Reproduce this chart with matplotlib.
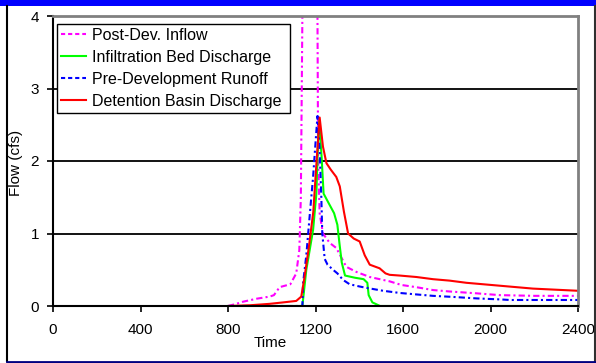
import matplotlib
matplotlib.use("Agg")
import matplotlib.pyplot as plt
from matplotlib.lines import Line2D
from matplotlib.patches import Rectangle

plt.rcParams['font.family'] = ['Liberation Sans', 'DejaVu Sans']

# Hydrograph series (time, flow in cfs)
inflow_t = [800, 838, 870, 930, 991, 1010, 1036, 1085, 1112, 1126, 1133, 1140, 1160, 1185,
            1209, 1212, 1219, 1234, 1265, 1295, 1341, 1387, 1448, 1539, 1593, 1660, 1737,
            1814, 1935, 2042, 2200, 2400]
inflow_q = [0, 0.03, 0.06, 0.10, 0.13, 0.15, 0.26, 0.30, 0.45, 0.77, 1.5, 4.0, 9.0, 9.0,
            4.0, 2.0, 1.28, 1.0, 0.87, 0.80, 0.54, 0.47, 0.40, 0.34, 0.29, 0.26, 0.22,
            0.20, 0.175, 0.15, 0.14, 0.14]

infil_t = [800, 1140, 1158, 1175, 1189, 1204, 1212, 1217, 1228, 1237, 1260, 1285, 1300,
           1310, 1320, 1335, 1380, 1420, 1437, 1443, 1460, 1495, 2400]
infil_q = [0, 0, 0.5, 0.8, 1.05, 1.55, 2.3, 2.55, 2.05, 1.55, 1.42, 1.28, 1.12,
           0.85, 0.6, 0.42, 0.39, 0.37, 0.32, 0.15, 0.05, 0, 0]

predev_t = [800, 1140, 1143, 1158, 1173, 1189, 1201, 1209, 1219, 1227, 1231, 1242, 1255,
            1280, 1300, 1326, 1356, 1400, 1433, 1509, 1585, 1660, 1737, 1830, 1935, 2050,
            2088, 2400]
predev_q = [0, 0, 0.31, 0.7, 1.23, 1.78, 2.29, 2.62, 2.15, 1.46, 1.0, 0.65, 0.57,
            0.50, 0.45, 0.36, 0.30, 0.27, 0.25, 0.21, 0.18, 0.16, 0.14, 0.125, 0.105, 0.09,
            0.083, 0.083]

basin_t = [800, 900, 991, 1053, 1112, 1135, 1150, 1170, 1190, 1205, 1219, 1234, 1250,
           1270, 1295, 1311, 1330, 1349, 1375, 1402, 1425, 1448, 1493, 1520, 1539, 1585,
           1661, 1737, 1813, 1890, 2042, 2194, 2400]
basin_q = [0, 0.01, 0.03, 0.05, 0.07, 0.13, 0.4, 0.82, 1.3, 2.0, 2.6, 2.2, 1.97,
           1.88, 1.78, 1.65, 1.3, 1.0, 0.93, 0.89, 0.7, 0.57, 0.52, 0.45, 0.43, 0.42,
           0.40, 0.37, 0.35, 0.32, 0.28, 0.24, 0.21]

labels = ["Post-Dev. Inflow", "Infiltration Bed Discharge",
          "Pre-Development Runoff", "Detention Basin Discharge"]
x_ticks = [0, 400, 800, 1200, 1600, 2000, 2400]
y_ticks = [0, 1, 2, 3, 4]

MAGENTA = "#FF00FF"
GREEN = "#00FF00"
BLUE = "#0000FF"
RED = "#FF0000"
FS = 11

W, H = 596, 363
fig = plt.figure(figsize=(W / 100, H / 100), dpi=100)
ax = fig.add_axes([53 / W, 1 - 306 / H, (578 - 53) / W, (306 - 16) / H])

lw = 1.5
dashdot = (3, 1.5, 1, 1.5)
ax.plot(inflow_t, inflow_q, color=MAGENTA, lw=lw, dashes=dashdot, zorder=3)
ax.plot(infil_t, infil_q, color=GREEN, lw=lw, zorder=4)
ax.plot(predev_t, predev_q, color=BLUE, lw=lw, dashes=dashdot, zorder=5)
ax.plot(basin_t, basin_q, color=RED, lw=lw, zorder=6)

ax.set_xlim(0, 2400)
ax.set_ylim(0, 4)
ax.set_xticks(x_ticks)
ax.set_yticks(y_ticks)
ax.set_xticklabels([str(v) for v in x_ticks])
ax.set_yticklabels([str(v) for v in y_ticks])

for y in y_ticks[1:-1]:
    ax.axhline(y, color="black", lw=1.3, zorder=1)

ax.spines['left'].set_color("black")
ax.spines['left'].set_linewidth(1.5)
ax.spines['bottom'].set_color("black")
ax.spines['bottom'].set_linewidth(1.5)
ax.spines['top'].set_color("#808080")
ax.spines['top'].set_linewidth(2)
ax.spines['right'].set_color("#808080")
ax.spines['right'].set_linewidth(2)
for s in ax.spines.values():
    s.set_zorder(7)

ax.tick_params(axis='both', direction='out', length=4, width=1.2, color="black",
               labelsize=FS, labelcolor="black")
ax.tick_params(axis='x', pad=8)
ax.tick_params(axis='y', pad=6)

handles = [
    Line2D([], [], color=MAGENTA, lw=lw, dashes=(2, 1.4)),
    Line2D([], [], color=GREEN, lw=lw),
    Line2D([], [], color=BLUE, lw=lw, dashes=(2, 1.4)),
    Line2D([], [], color=RED, lw=lw),
]
leg = ax.legend(handles, labels, loc='upper left', mode='expand',
                bbox_to_anchor=(57 / W, 1 - 113 / H, 233 / W, 89 / H),
                bbox_transform=fig.transFigure,
                borderaxespad=0, fancybox=False, shadow=False, framealpha=1,
                edgecolor="black", fontsize=11.5, handlelength=1.6,
                handletextpad=0.35, labelspacing=0.45, borderpad=0.22)
leg.get_frame().set_linewidth(1.0)
leg.set_zorder(10)

fig.text(270 / W, 1 - 343 / H, "Time", ha='center', va='center', fontsize=FS)
fig.text(16 / W, 1 - 163 / H, "Flow (cfs)", ha='center', va='center',
         rotation=90, fontsize=FS)

# Chart-area frame
fig.patches.append(Rectangle((0, 1 - 5.5 / H), 1, 5.5 / H, transform=fig.transFigure,
                             facecolor=BLUE, edgecolor='none'))
fig.lines.append(Line2D([7.5 / W, 7.5 / W], [1 - 5.5 / H, 1 - 361 / H],
                        transform=fig.transFigure, color="black", lw=1.5))
fig.lines.append(Line2D([595 / W, 595 / W], [1 - 5.5 / H, 1 - 361 / H],
                        transform=fig.transFigure, color="#303030", lw=1.5))
fig.lines.append(Line2D([7.5 / W, 596 / W], [1 - 361.5 / H, 1 - 361.5 / H],
                        transform=fig.transFigure, color="#000080", lw=2))

fig.savefig("out.png", dpi=100)
